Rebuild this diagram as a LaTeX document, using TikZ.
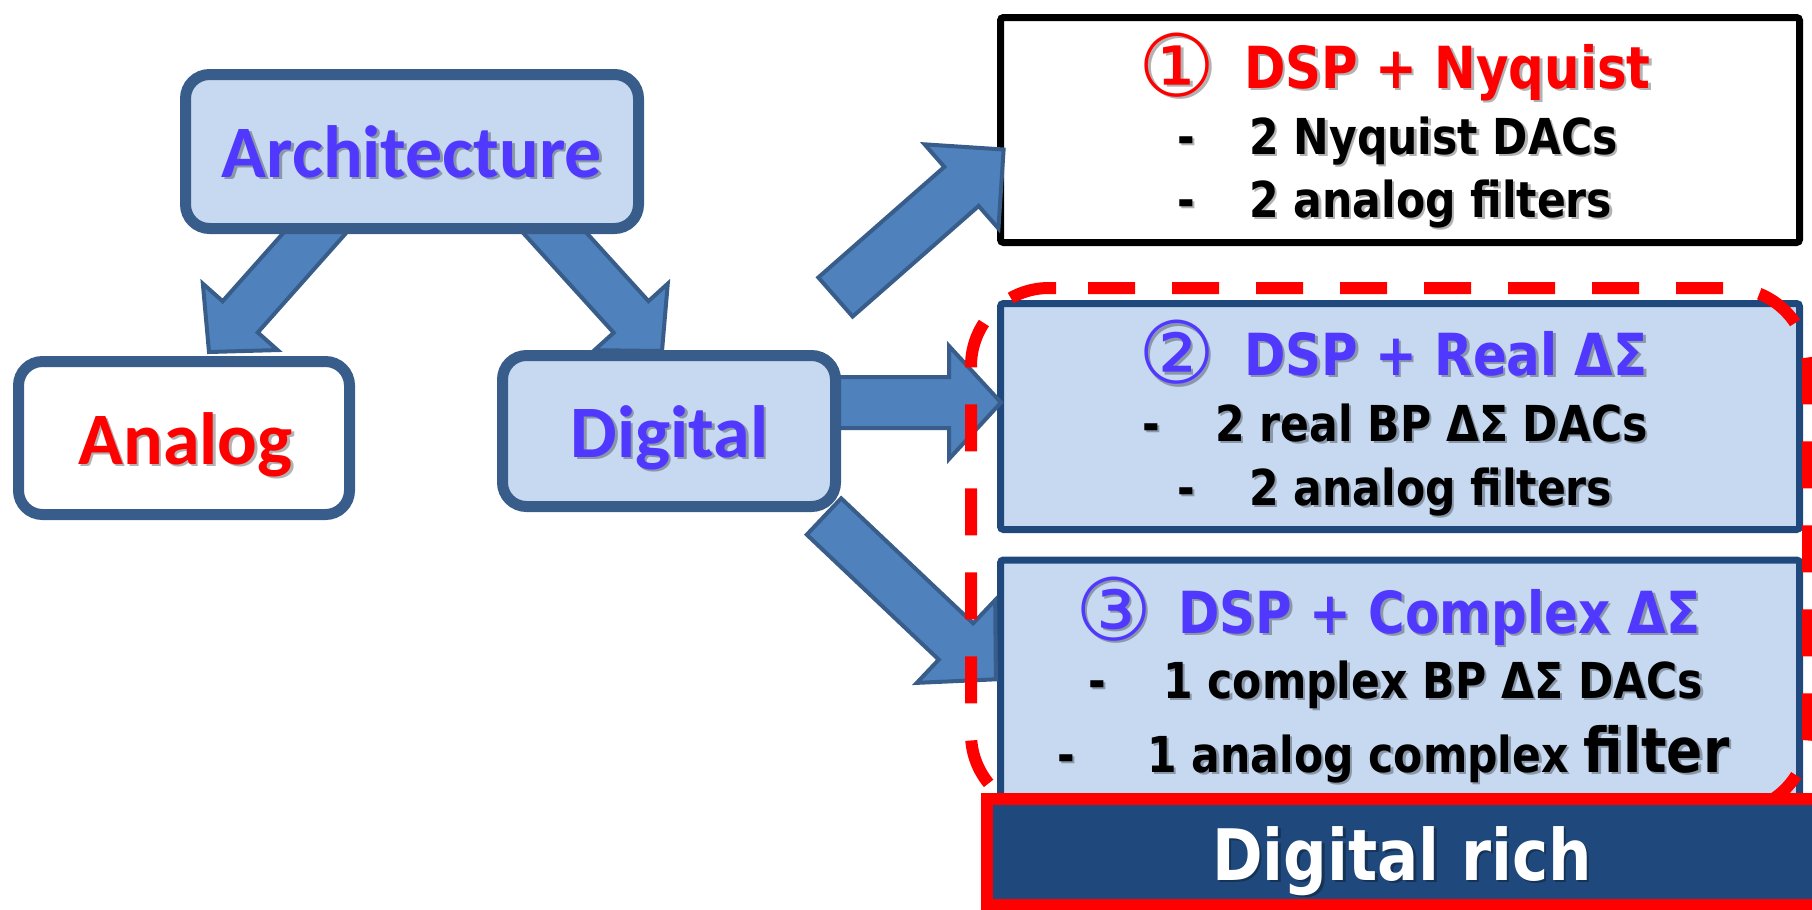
\documentclass[tikz,border=0pt]{standalone}
\usepackage{fontspec}
\usetikzlibrary{calc}
\setmainfont{DejaVu Sans}
\newfontfamily\headfont{Carlito}
\newfontfamily\listfont[FakeStretch=0.86]{DejaVu Sans}
\newfontfamily\circfont{DejaVu Sans}

\definecolor{boxfill}{RGB}{198,217,241}
\definecolor{boxline}{RGB}{56,93,138}
\definecolor{arrowfill}{RGB}{79,129,189}
\definecolor{navy}{RGB}{31,73,125}
\definecolor{txtblue}{RGB}{80,56,255}
\definecolor{txtred}{RGB}{255,0,0}

% text with a soft drop shadow: name, position, style, text
\newcommand{\shtext}[4]{%
  \node[#3, text=black, opacity=0.3] (#1-sh) at ($(#2)+(2.5,2.5)$) {#4};
  \node[#3] (#1) at (#2) {#4};
}
% block arrow: tail, tip, half shaft width, half head width, head length
\newcommand{\blockarrow}[5]{%
  \coordinate (ba-neck) at ($(#2)!#5!(#1)$);
  \draw[barrow]
    ($(#1)!#3!90:(#2)$) -- ($(ba-neck)!#3!90:(#2)$) --
    ($(ba-neck)!#4!90:(#2)$) -- (#2) --
    ($(ba-neck)!#4!-90:(#2)$) -- ($(ba-neck)!#3!-90:(#2)$) --
    ($(#1)!#3!-90:(#2)$) -- cycle;
}

\tikzset{
  roundbox/.style={draw=boxline, line width=11pt, rounded corners=24pt, inner sep=0pt},
  optbox/.style={draw=navy, fill=boxfill, line width=7pt, rounded corners=3pt, inner sep=0pt},
  barrow/.style={fill=arrowfill, draw=boxline, line width=4pt, line join=miter},
  headtxt/.style={inner sep=0pt, anchor=base, font=\headfont\bfseries\fontsize{74}{74}\selectfont},
  ttl/.style={inner sep=0pt, anchor=base west, font=\listfont\bfseries\fontsize{58}{60}\selectfont},
  item/.style={inner sep=0pt, anchor=base west, text=black, font=\listfont\bfseries\fontsize{49.5}{50}\selectfont},
  circ/.style={inner sep=0pt, anchor=center, font=\circfont\fontsize{86}{86}\selectfont},
  richtxt/.style={inner sep=0pt, anchor=base, text=white, font=\listfont\bfseries\fontsize{71}{72}\selectfont},
  dashline/.style={draw=txtred, line width=12pt, rounded corners=78pt, dash pattern=on 47pt off 37pt},
}

\begin{document}
\begin{tikzpicture}[x=1pt, y=-1pt]
\useasboundingbox (0,0) rectangle (1812,910);

% option boxes on the right
\node[draw=black, fill=white, line width=7pt, rounded corners=3pt, inner sep=0pt,
      minimum width=799pt, minimum height=225pt] (nyq) at (1400,130) {};
\node[optbox, minimum width=799pt, minimum height=226pt] (real) at (1400,416.5) {};
\node[optbox, minimum width=799pt, minimum height=240pt] (cplx) at (1400,680) {};

% block arrows
\coordinate (a-tail) at (344,200);   \coordinate (a-tip) at (209,352);
\coordinate (b-tail) at (525,200);   \coordinate (b-tip) at (662,351);
\coordinate (c-tail) at (835.5,297); \coordinate (c-tip) at (1003.6,149.5);
\coordinate (d-tail) at (790,402.5); \coordinate (d-tip) at (1001,402.5);
\coordinate (e-tail) at (824,516.5); \coordinate (e-tip) at (995.9,679.3);
\blockarrow{a-tail}{a-tip}{23.5pt}{50pt}{47pt}
\blockarrow{b-tail}{b-tip}{23.5pt}{49.5pt}{46pt}
\blockarrow{c-tail}{c-tip}{26pt}{56pt}{56pt}
\blockarrow{d-tail}{d-tip}{25.5pt}{56.5pt}{52pt}
\blockarrow{e-tail}{e-tip}{25pt}{57pt}{55pt}

% architecture tree boxes
\node[roundbox, fill=boxfill, minimum width=453pt, minimum height=154pt] (arch) at (412,151.5) {};
\node[roundbox, fill=white, minimum width=331pt, minimum height=153pt] (analog) at (184,438) {};
\node[roundbox, fill=boxfill, minimum width=333pt, minimum height=151pt] (digital) at (669,431) {};

\shtext{arch-t}{412,177}{headtxt, text=txtblue}{Architecture}
\shtext{analog-t}{185.5,464}{headtxt, text=txtred}{Analog}
\shtext{digital-t}{669.5,457}{headtxt, text=txtblue}{Digital}

% option 1
\shtext{n-c}{1177.5,65}{circ, text=txtred}{①}
\shtext{n-t}{1244,88}{ttl, text=txtred}{DSP + Nyquist}
\shtext{n-d1}{1177,154}{item}{-}
\shtext{n-i1}{1249,154}{item}{2 Nyquist DACs}
\shtext{n-d2}{1177,217}{item}{-}
\shtext{n-i2}{1249,217}{item}{2 analog filters}

% option 2
\shtext{r-c}{1177,352.5}{circ, text=txtblue}{②}
\shtext{r-t}{1244,375}{ttl, text=txtblue}{DSP + Real ΔΣ}
\shtext{r-d1}{1142,441}{item}{-}
\shtext{r-i1}{1215,441}{item}{2 real BP ΔΣ DACs}
\shtext{r-d2}{1177,505}{item}{-}
\shtext{r-i2}{1249,505}{item}{2 analog filters}

% option 3
\shtext{x-c}{1114,609}{circ, text=txtblue}{③}
\shtext{x-t}{1178,633}{ttl, text=txtblue}{DSP + Complex ΔΣ}
\shtext{x-d1}{1088,698}{item}{-}
\shtext{x-i1}{1163,698}{item}{1 complex BP ΔΣ DACs}
\shtext{x-d2}{1057,772}{item}{-}
\shtext{x-i2}{1147,772}{item}{1 analog complex {\fontsize{62}{62}\selectfont filter}}

% dashed grouping of the digital-rich options
\draw[dashline] (1088,288) -- (1808,288) -- (1808,812) -- (1400,812);
\draw[dashline, dash phase=52pt] (1088,288) -- (971,288) -- (971,812) -- (1400,812);

% digital rich banner
\node[draw=txtred, fill=navy, line width=12pt, inner sep=0pt,
      minimum width=831.5pt, minimum height=106pt] (rich) at (1402.25,852) {};
\shtext{rich-t}{1402,880}{richtxt}{Digital rich}
\end{tikzpicture}
\end{document}
